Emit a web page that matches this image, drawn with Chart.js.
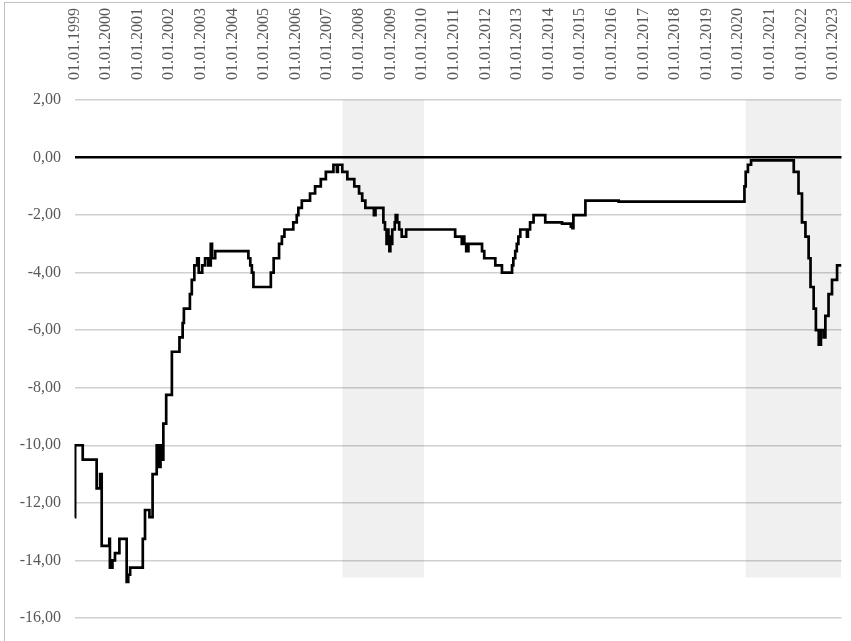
<!DOCTYPE html>
<html><head><meta charset="utf-8">
<script src="https://cdn.jsdelivr.net/npm/chart.js@4.4.0/dist/chart.umd.min.js"></script>
<style>
html,body{margin:0;padding:0;background:#fff;}
#wrap{position:relative;width:851px;height:641px;overflow:hidden;}
#frame{position:absolute;left:4px;top:2px;width:900px;height:700px;border-left:1.5px solid #c0c0c0;border-top:1.5px solid #c0c0c0;pointer-events:none;}
canvas{display:block;}
</style></head><body>
<div id="wrap"><canvas id="c" width="851" height="641"></canvas><div id="frame"></div></div>
<script>
// Decimal-year dates at which the value changes (value holds until the next date)
const dates = [
  1999.00, 1999.02, 1999.26, 1999.70, 1999.81, 1999.86, 2000.10, 2000.12, 2000.20, 2000.28,
  2000.42, 2000.65, 2000.70, 2000.76, 2001.16, 2001.23, 2001.37, 2001.47, 2001.60, 2001.63,
  2001.66, 2001.69, 2001.72, 2001.76, 2001.81, 2001.90, 2002.08, 2002.32, 2002.42, 2002.46,
  2002.65, 2002.71, 2002.79, 2002.88, 2002.93, 2003.04, 2003.13, 2003.23, 2003.31, 2003.35,
  2003.45, 2004.50, 2004.56, 2004.61, 2004.66, 2005.21, 2005.30, 2005.47, 2005.56, 2005.64,
  2005.92, 2006.03, 2006.08, 2006.19, 2006.45, 2006.61, 2006.79, 2006.95, 2007.19, 2007.30,
  2007.33, 2007.47, 2007.63, 2007.85, 2008.00, 2008.10, 2008.20, 2008.47, 2008.52, 2008.77,
  2008.82, 2008.87, 2008.90, 2008.93, 2008.96, 2008.99, 2009.02, 2009.05, 2009.13, 2009.16,
  2009.21, 2009.27, 2009.35, 2009.49, 2011.04, 2011.25, 2011.29, 2011.33, 2011.39, 2011.46,
  2011.89, 2011.96, 2012.31, 2012.52, 2012.84, 2012.88, 2012.94, 2012.99, 2013.04, 2013.10,
  2013.31, 2013.34, 2013.41, 2013.52, 2013.89, 2014.42, 2014.70, 2014.75, 2014.78, 2015.16,
  2016.21, 2020.19, 2020.23, 2020.30, 2020.40, 2021.75, 2021.90, 2022.01, 2022.12, 2022.22,
  2022.28, 2022.38, 2022.45, 2022.54, 2022.61, 2022.70, 2022.75, 2022.85, 2022.96, 2023.12,
  2023.26
];
const values = [
  -12.50, -10.00, -10.50, -11.50, -11.00, -13.50, -13.25, -14.25, -14.00, -13.75,
  -13.25, -14.75, -14.50, -14.25, -13.25, -12.25, -12.50, -11.00, -10.00, -10.75,
  -10.00, -10.75, -10.00, -10.50, -9.25, -8.25, -6.75, -6.25, -5.75, -5.25,
  -4.75, -4.25, -3.75, -3.50, -4.00, -3.75, -3.50, -3.75, -3.00, -3.50,
  -3.25, -3.50, -3.75, -4.00, -4.50, -4.00, -3.50, -3.00, -2.75, -2.50,
  -2.25, -2.00, -1.75, -1.50, -1.25, -1.00, -0.75, -0.50, -0.25, -0.50,
  -0.25, -0.50, -0.75, -1.00, -1.25, -1.50, -1.75, -2.00, -1.75, -2.25,
  -2.50, -3.00, -2.50, -3.00, -3.25, -2.75, -3.00, -2.50, -2.25, -2.00,
  -2.25, -2.50, -2.75, -2.50, -2.75, -3.00, -2.75, -3.00, -3.25, -3.00,
  -3.25, -3.50, -3.75, -4.00, -3.75, -3.50, -3.25, -3.00, -2.75, -2.50,
  -2.75, -2.50, -2.25, -2.00, -2.25, -2.30, -2.40, -2.45, -2.00, -1.50,
  -1.53, -1.00, -0.50, -0.25, -0.10, -0.50, -1.25, -2.25, -2.75, -3.50,
  -4.50, -5.25, -6.00, -6.50, -6.00, -6.25, -5.50, -4.75, -4.25, -3.75,
  -3.75
];
// Shaded periods (start / end in decimal years) and their vertical extent
const shadeStarts = [2007.47, 2020.22];
const shadeEnds = [2010.06, 2023.26];
const shadeTop = 2;
const shadeBottom = -14.6;
// Axis ticks
const tickYears = [1999,2000,2001,2002,2003,2004,2005,2006,2007,2008,2009,2010,2011,2012,2013,2014,2015,2016,2017,2018,2019,2020,2021,2022,2023];
const yTicks = [2,0,-2,-4,-6,-8,-10,-12,-14,-16];
const xMin = 1999.0, xMax = 2023.26;

const mainData = dates.map((d, i) => ({x: d, y: values[i]}));
const shadeSets = shadeStarts.map((s, i) => ({
  type: 'line',
  data: [{x: s, y: shadeTop}, {x: shadeEnds[i], y: shadeTop}],
  borderWidth: 0,
  borderColor: 'rgba(0,0,0,0)',
  backgroundColor: 'rgba(0,0,0,0.058)',
  pointRadius: 0,
  fill: {value: shadeBottom}
}));

const font = {family: "'Liberation Serif', 'Times New Roman', serif", size: 16};

new Chart(document.getElementById('c'), {
  type: 'line',
  data: {
    datasets: [
      {
        data: mainData,
        stepped: true,
        borderColor: '#000',
        borderWidth: 2.7,
        pointRadius: 0,
        fill: false
      },
      ...shadeSets
    ]
  },
  options: {
    responsive: false,
    animation: false,
    devicePixelRatio: 1,
    layout: {padding: {left: 0, top: 0, right: 9.5, bottom: 19.3}},
    plugins: {legend: {display: false}, tooltip: {enabled: false}},
    scales: {
      x: {
        type: 'linear',
        position: 'top',
        min: xMin,
        max: xMax,
        grid: {display: false},
        border: {display: false},
        afterBuildTicks: s => { s.ticks = tickYears.map(v => ({value: v})); },
        afterFit: s => { s.height = 100; },
        ticks: {
          autoSkip: false,
          minRotation: 90,
          maxRotation: 90,
          padding: 12,
          labelOffset: 19,
          color: '#595959',
          font: font,
          callback: v => '01.01.' + v
        }
      },
      y: {
        min: -16,
        max: 2,
        afterBuildTicks: s => { s.ticks = yTicks.map(v => ({value: v})); },
        afterFit: s => { s.width = 74.5; },
        border: {display: false},
        grid: {
          drawTicks: false,
          color: c => c.tick && c.tick.value === 0 ? '#000' : '#d0d0d0',
          lineWidth: c => c.tick && c.tick.value === 0 ? 2.6 : 1.4
        },
        ticks: {
          padding: 13.5,
          color: '#595959',
          font: font,
          callback: v => v.toFixed(2).replace('.', ',')
        }
      }
    }
  }
});
</script>
</body></html>
